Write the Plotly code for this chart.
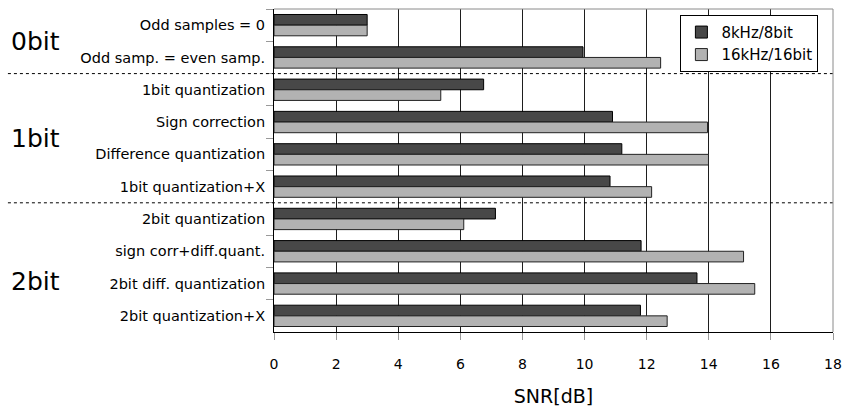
import plotly.graph_objects as go

categories = [
    "Odd samples = 0",
    "Odd samp. = even samp.",
    "1bit quantization",
    "Sign correction",
    "Difference quantization",
    "1bit quantization+X",
    "2bit quantization",
    "sign corr+diff.quant.",
    "2bit diff. quantization",
    "2bit quantization+X",
]
snr_8k = [3.0, 9.95, 6.75, 10.9, 11.2, 10.82, 7.13, 11.82, 13.62, 11.8]
snr_16k = [3.0, 12.45, 5.37, 13.96, 13.99, 12.16, 6.11, 15.12, 15.48, 12.66]
series_names = ["8kHz/8bit", "16kHz/16bit"]
group_labels = ["0bit", "1bit", "2bit"]
group_label_y = [0.5, 3.5, 7.95]
separators_y = [1.5, 5.5]
x_ticks = list(range(0, 19, 2))

FONT = "DejaVu Sans"

fig = go.Figure()
fig.add_trace(go.Bar(y=categories, x=snr_8k, orientation="h", name=series_names[0],
                     marker=dict(color="#484848", line=dict(color="#000000", width=1))))
fig.add_trace(go.Bar(y=categories, x=snr_16k, orientation="h", name=series_names[1],
                     marker=dict(color="#b2b2b2", line=dict(color="#222222", width=1))))

shapes = []
for yv in separators_y:
    shapes.append(dict(type="line", xref="paper", yref="y", x0=-0.476, x1=1, y0=yv, y1=yv,
                       line=dict(color="#000000", width=1, dash="dot"), layer="above"))
# gray top and right frame
shapes.append(dict(type="line", xref="paper", yref="paper", x0=0, x1=1, y0=1, y1=1,
                   line=dict(color="#8a8a8a", width=1), layer="above"))
shapes.append(dict(type="line", xref="paper", yref="paper", x0=1, x1=1, y0=0, y1=1,
                   line=dict(color="#8a8a8a", width=1), layer="above"))

annotations = []
for lab, yv in zip(group_labels, group_label_y):
    annotations.append(dict(text=lab, xref="paper", yref="y", x=-0.474, y=yv, xanchor="left",
                            yanchor="middle", showarrow=False,
                            font=dict(family=FONT, size=25, color="#000000")))

fig.update_layout(
    width=846, height=407,
    margin=dict(l=274, r=13, t=9, b=75, autoexpand=False),
    paper_bgcolor="white", plot_bgcolor="white",
    barmode="group", bargap=0.34, bargroupgap=0.0,
    font=dict(family=FONT, color="#000000"),
    showlegend=True,
    legend=dict(x=0.727, y=0.982, xanchor="left", yanchor="top",
                bordercolor="#000000", borderwidth=1, bgcolor="white",
                font=dict(family=FONT, size=15), traceorder="normal",
                itemwidth=30, tracegroupgap=0),
    shapes=shapes,
    annotations=annotations,
    xaxis=dict(range=[0, 18], tickvals=x_ticks, showgrid=True, gridcolor="#1e1e1e", gridwidth=1,
               zeroline=False, showline=True, linecolor="#000000", linewidth=1,
               ticks="outside", ticklen=7, tickcolor="#999999", automargin=False,
               tickfont=dict(family=FONT, size=14), ticklabelstandoff=12,
               title=dict(text="SNR[dB]", font=dict(family=FONT, size=19), standoff=21)),
    yaxis=dict(autorange="reversed", type="category", showgrid=False, zeroline=False,
               showline=True, linecolor="#000000", linewidth=1, automargin=False,
               ticks="outside", ticklen=7, tickcolor="#999999", tickson="boundaries",
               ticklabelstandoff=5,
               tickfont=dict(family=FONT, size=14.5)),
)

fig.write_html("out.html", config={"displayModeBar": False},
               post_script="document.body.style.margin='0';document.body.style.padding='0';")
